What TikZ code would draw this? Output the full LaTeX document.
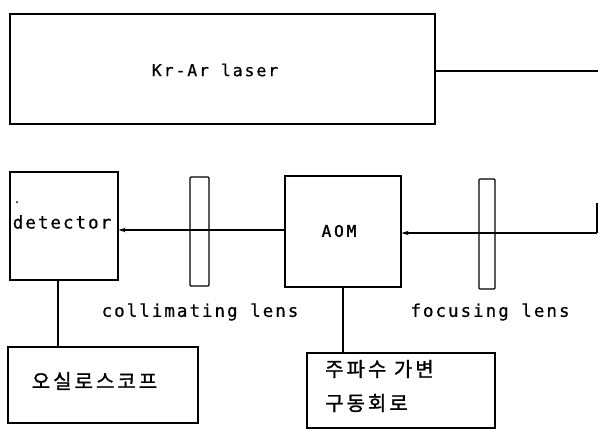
\documentclass[tikz,border=0pt]{standalone}
\usepackage{fontspec}
\usetikzlibrary{arrows.meta}
\newfontfamily\monof[LetterSpace=11.5,FakeBold=0.6]{DejaVu Sans Mono}
\newfontfamily\monobf[LetterSpace=18,FakeBold=2]{DejaVu Sans Mono}
\newfontfamily\korf[LetterSpace=15,FakeBold=1.2]{Noto Sans CJK KR}
\tikzset{
  box/.style={draw, line width=1.3pt, inner sep=0pt},
  lensbox/.style={draw, line width=1.3pt, inner sep=0pt, rounded corners=1pt},
  lbl/.style={inner sep=0pt, font=\monof\fontsize{17.5}{20}\selectfont},
  klbl/.style={inner sep=0pt, font=\korf\fontsize{20}{24}\selectfont},
  wire/.style={line width=1.3pt},
  beam/.style={line width=1.3pt, -{Stealth[length=7pt,width=4.5pt]}}
}
\begin{document}
\begin{tikzpicture}[x=1pt,y=-1pt]
\useasboundingbox (0,0) rectangle (598,429);
% laser
\node[box, minimum width=425pt, minimum height=110pt] (laser) at (222.5,69) {};
\node[lbl, font=\monof\fontsize{16.5}{20}\selectfont] (lasertxt) at (215,70) {Kr-Ar laser};
\coordinate (lout) at (598,71);
\draw[wire] ([yshift=-2pt]laser.east) -- (lout);
% AOM
\node[box, minimum width=116pt, minimum height=111pt] (aom) at (343,231.5) {};
\node[inner sep=0pt, font=\monobf\fontsize{16}{19}\selectfont] (aomtxt) at (339,231) {AOM};
% lenses
\node[lensbox, minimum width=16pt, minimum height=110pt] (flens) at (487,234) {};
\node[lensbox, minimum width=19pt, minimum height=109pt] (clens) at (199.5,231.5) {};
\node[lbl] (flabel) at (490,312) {focusing lens};
\node[lbl] (clabel) at (200,312) {collimating lens};
% detector
\node[box, minimum width=108pt, minimum height=108pt] (det) at (64,226) {};
\node[lbl] (dettxt) at (62,222) {detector};
\fill (17,202) circle (1pt);
% beam
\coordinate (m1) at (597,203);
\coordinate (m2) at (597,233);
\coordinate (aw) at ([yshift=1.5pt]aom.west);
\draw[wire] (m1) -- (m2);
\draw[beam] (m2) -- (m2 -| aom.east);
\draw[beam] (aw) -- (aw -| det.east);
% oscilloscope
\node[box, minimum width=190pt, minimum height=76pt] (scope) at (103,385) {};
\node[klbl] (scopetxt) at (94.5,381) {오실로스코프};
\coordinate (dbot) at (58,280);
\draw[wire] (dbot) -- (dbot |- scope.north);
% driver
\node[box, minimum width=188pt, minimum height=75pt] (drv) at (401,390.5) {};
\node[klbl, anchor=west] (drv1) at (325,369) {주파수 가변};
\node[klbl, anchor=west] (drv2) at (325,403) {구동회로};
\draw[wire] (aom.south) -- (aom.south |- drv.north);
\end{tikzpicture}
\end{document}
